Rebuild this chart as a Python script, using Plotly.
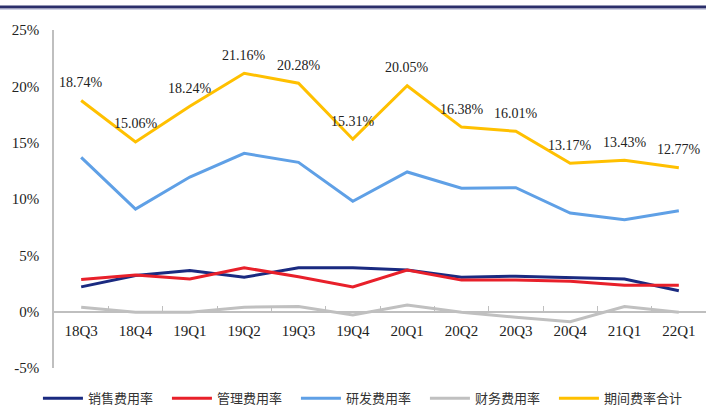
import plotly.graph_objects as go

categories = ["18Q3", "18Q4", "19Q1", "19Q2", "19Q3", "19Q4", "20Q1", "20Q2", "20Q3", "20Q4", "21Q1", "22Q1"]
sales_rate = [2.2, 3.2, 3.65, 3.05, 3.9, 3.9, 3.7, 3.05, 3.15, 3.0, 2.9, 1.85]
admin_rate = [2.85, 3.25, 2.9, 3.9, 3.1, 2.2, 3.7, 2.8, 2.8, 2.7, 2.35, 2.35]
rd_rate = [13.7, 9.1, 11.95, 14.05, 13.25, 9.8, 12.4, 10.95, 11.0, 8.75, 8.15, 8.95]
fin_rate = [0.4, -0.05, -0.05, 0.4, 0.45, -0.3, 0.6, -0.05, -0.5, -0.9, 0.45, -0.05]
total_rate = [18.74, 15.06, 18.24, 21.16, 20.28, 15.31, 20.05, 16.38, 16.01, 13.17, 13.43, 12.77]
series_names = ["销售费用率", "管理费用率", "研发费用率", "财务费用率", "期间费率合计"]
y_ticks = [-5, 0, 5, 10, 15, 20, 25]
y_tick_text = ["-5%", "0%", "5%", "10%", "15%", "20%", "25%"]

colors = ["#1a2a80", "#e8202a", "#5fa0e6", "#c0c0c0", "#ffc000"]
all_series = [sales_rate, admin_rate, rd_rate, fin_rate, total_rate]

fig = go.Figure()
for name, vals, col in zip(series_names, all_series, colors):
    fig.add_trace(go.Scatter(x=categories, y=vals, name=name, mode="lines",
                             line=dict(color=col, width=3)))

for c, v in zip(categories, total_rate):
    fig.add_annotation(x=c, y=v, text=f"{v:.2f}%", showarrow=False, yshift=18,
                       font=dict(family="Liberation Serif", size=14, color="#222222"))

fig.add_shape(type="line", xref="paper", yref="paper", x0=-0.09, x1=1.0, y0=1.068, y1=1.068,
              line=dict(color="#2b2f6b", width=3))
fig.add_shape(type="line", xref="paper", yref="paper", x0=-0.09, x1=1.0, y0=1.061, y1=1.061,
              line=dict(color="#c8cbe0", width=1))

fig.update_layout(
    width=706, height=407,
    margin=dict(l=54, r=0, t=30, b=39, autoexpand=False),
    plot_bgcolor="white", paper_bgcolor="white",
    font=dict(family="Liberation Serif", size=14, color="#222222"),
    showlegend=True,
    legend=dict(orientation="h", x=0.47, xanchor="center", y=-0.09, yanchor="middle",
                font=dict(family="Noto Sans CJK SC", size=13, color="#333333"),
                entrywidth=74, entrywidthmode="pixels", itemwidth=40,
                tracegroupgap=0, traceorder="normal"),
    xaxis=dict(type="category", anchor="free", position=1/6, showgrid=False,
               showline=True, linecolor="#bfbfbf", linewidth=1.5,
               ticks="inside", tickson="boundaries", ticklen=5, tickcolor="#bfbfbf",
               ticklabelstandoff=6,
               tickfont=dict(family="Liberation Serif", size=15, color="#222222"),
               range=[-0.5, 11.5]),
    yaxis=dict(range=[-5, 25], tickvals=y_ticks, ticktext=y_tick_text, showgrid=False,
               zeroline=False, showline=True, linecolor="#bfbfbf", linewidth=1.5,
               ticks="", ticklabelstandoff=10,
               tickfont=dict(family="Liberation Serif", size=15, color="#222222")),
)

fig.write_html("out.html", config={"displayModeBar": False},
               post_script="document.body.style.margin='0';")
